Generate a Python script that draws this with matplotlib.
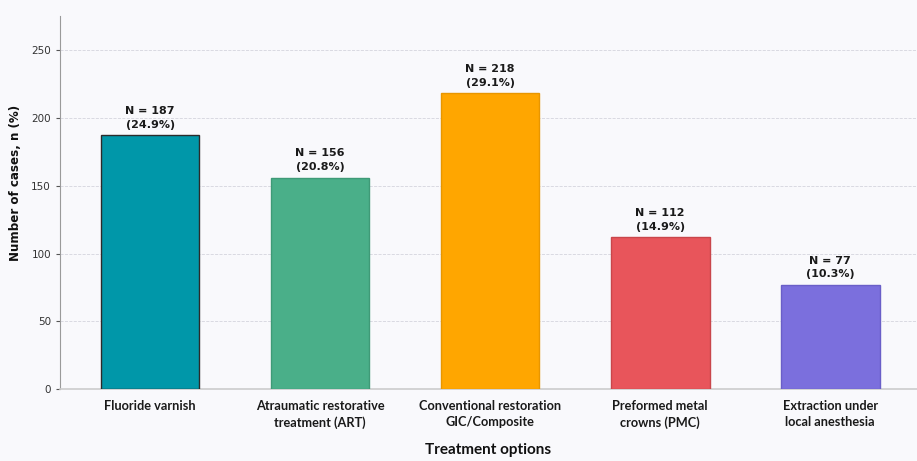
import matplotlib.pyplot as plt

# treatment counts
treatments = ["Fluoride varnish", "Atraumatic restorative\ntreatment (ART)",
              "Conventional restoration\nGIC/Composite", "Preformed metal\ncrowns (PMC)",
              "Extraction under\nlocal anesthesia"]
counts = [187, 156, 218, 112, 77]
percents = [24.9, 20.8, 29.1, 14.9, 10.3]
colors = ["#0097a9", "#4aaf89", "#ffa600", "#e8555b", "#7b6fdd"]
edges = ["#2b2b2b", "#3f9a77", "#e89600", "#c9464b", "#6a5fc8"]

fig = plt.figure(figsize=(9.17, 4.61), dpi=100, facecolor="#f9f9fc")
ax = fig.add_axes([0.0654, 0.1555, 0.9346, 0.8098])
ax.set_facecolor("#f9f9fc")

x = range(len(treatments))
bars = ax.bar(x, counts, width=0.58, color=colors, edgecolor=edges, linewidth=1.0, zorder=3)

for b, n, p in zip(bars, counts, percents):
    ax.annotate(f"N = {n}\n({p}%)", (b.get_x() + b.get_width() / 2, n),
                xytext=(0, 4), textcoords="offset points", ha="center", va="bottom",
                fontsize=8, fontweight="bold", color="#1a1a1a", linespacing=1.45)

ax.set_xlim(-0.53, 4.51)
ax.set_ylim(0, 275)
ax.set_yticks([0, 50, 100, 150, 200, 250])
ax.set_xticks(list(x))
ax.set_xticklabels(treatments, fontfamily="Lato", fontweight="bold", fontsize=9.2,
                   color="#1a1a1a", linespacing=1.35)
ax.tick_params(axis="x", length=0, pad=8)
ax.tick_params(axis="y", length=3, width=0.8, color="#555555", labelsize=7.5, labelcolor="#333333")

ax.set_ylabel("Number of cases, n (%)", fontsize=8.6, fontweight="bold", color="#111111")
ax.yaxis.set_label_coords(-0.044, 0.553)
ax.set_xlabel("Treatment options", fontfamily="Lato", fontsize=11, fontweight="bold",
              color="#111111", labelpad=10)

ax.grid(axis="y", linestyle="--", linewidth=0.6, color="#d5d5dd", zorder=0)
ax.spines["top"].set_visible(False)
ax.spines["right"].set_visible(False)
ax.spines["left"].set_color("#9a9a9a")
ax.spines["left"].set_linewidth(0.8)
ax.spines["bottom"].set_color("#cccccc")
ax.spines["bottom"].set_linewidth(1.2)

fig.savefig("out.png", dpi=100, facecolor=fig.get_facecolor())
